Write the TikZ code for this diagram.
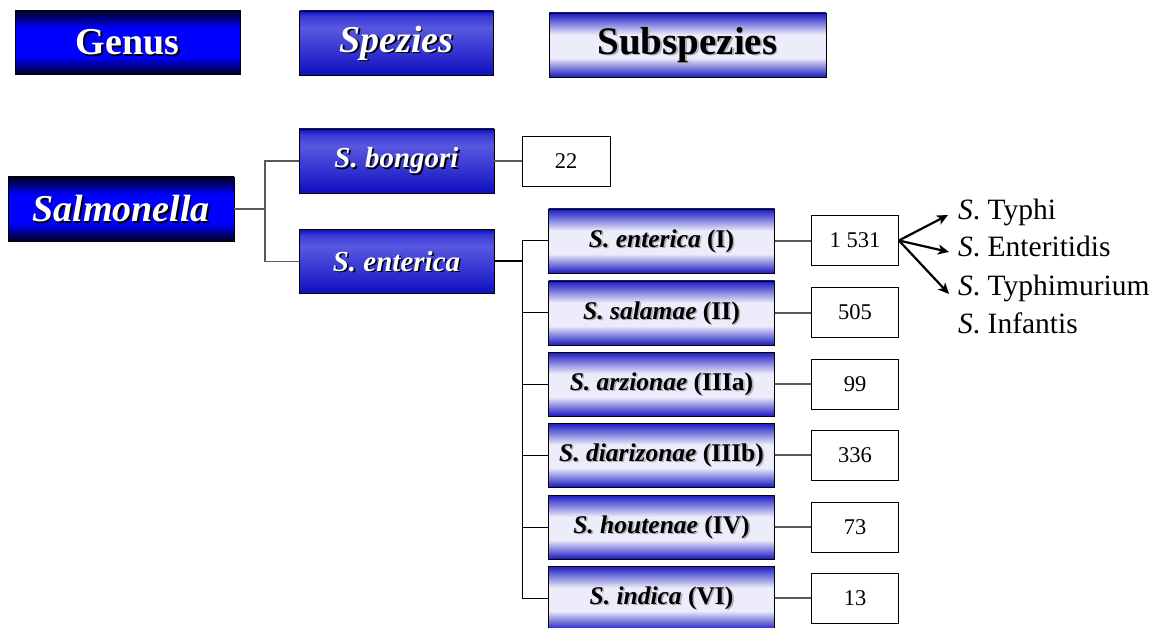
\documentclass[tikz,border=0pt]{standalone}
\usepackage{fontspec}
\setmainfont{Liberation Serif}
\usetikzlibrary{arrows.meta}
\definecolor{gdark}{RGB}{0,0,35}
\definecolor{gblue}{RGB}{0,0,255}
\definecolor{sdark}{RGB}{15,15,190}
\definecolor{smid}{RGB}{55,55,212}
\definecolor{slight}{RGB}{88,88,224}
\definecolor{udark}{RGB}{25,25,195}
\definecolor{ulight}{RGB}{236,236,250}
\definecolor{edgegray}{RGB}{90,90,90}
\definecolor{shadowgray}{RGB}{175,175,185}
\pgfdeclareverticalshading{genusshade}{100bp}{color(0bp)=(gdark); color(25bp)=(gdark); color(39bp)=(gblue); color(61bp)=(gblue); color(75bp)=(gdark); color(100bp)=(gdark)}
\pgfdeclareverticalshading{speziesshade}{100bp}{color(0bp)=(sdark); color(25bp)=(sdark); color(45bp)=(smid); color(62bp)=(slight); color(71bp)=(smid); color(75bp)=(sdark); color(100bp)=(sdark)}
\pgfdeclareverticalshading{subshade}{100bp}{color(0bp)=(udark); color(25bp)=(udark); color(40bp)=(ulight); color(58bp)=(ulight); color(75bp)=(udark); color(100bp)=(udark)}
\newcommand\shad[3]{\leavevmode\rlap{\smash{\kern1.6pt\raisebox{-1.6pt}{\color{#2}#3}}}{\color{#1}#3}}
\tikzset{
  gbox/.style={draw=black, line width=0.8pt, shading=genusshade, minimum width=225pt, minimum height=64pt, inner sep=0pt},
  sbox/.style={draw=black, line width=0.8pt, shading=speziesshade, minimum width=194pt, minimum height=64pt, inner sep=0pt},
  ubox/.style={draw=black, line width=0.8pt, shading=subshade, minimum width=226pt, minimum height=64pt, inner sep=0pt},
  nbox/.style={draw=black, line width=0.8pt, fill=white, minimum width=87pt, minimum height=50pt, inner sep=0pt, font=\fontsize{22.5}{22.5}\selectfont},
  lbl/.style={anchor=base west, inner sep=0pt, font=\fontsize{29.5}{29.5}\selectfont},
  conn/.style={draw=edgegray, line width=1.3pt},
  connb/.style={draw=black, line width=1pt},
  arr/.style={draw=black, line width=2.2pt, -{Stealth[length=11pt,width=10pt,inset=3pt]}}
}
\begin{document}
\begin{tikzpicture}[x=1pt,y=-1pt]
\useasboundingbox (0,0) rectangle (1154,628);
% header
\node[gbox] (genus) at (127.5,42.5) {\fontsize{38}{38}\selectfont\bfseries\shad{white}{black}{Genus}};
\node[sbox] (spezies) at (396.5,43) {\fontsize{38}{38}\selectfont\bfseries\itshape\shad{white}{black}{Spezies}};
\node[ubox, minimum width=277pt] (subspezies) at (687.5,45) {\fontsize{39}{39}\selectfont\bfseries\shad{black}{shadowgray}{Subspezies}};
% tree
\node[gbox, minimum width=226pt] (salm) at (121,209) {\fontsize{38}{38}\selectfont\bfseries\itshape\shad{white}{black}{Salmonella}};
\node[sbox, minimum width=195pt] (bong) at (396.5,161) {\fontsize{29}{29}\selectfont\bfseries\itshape\shad{white}{black}{S. bongori}};
\node[sbox, minimum width=195pt] (ent) at (396.5,261.5) {\fontsize{29}{29}\selectfont\bfseries\itshape\shad{white}{black}{S. enterica}};
\node[nbox, minimum width=88pt] (n22) at (566,161.5) {22};
% subspecies
\node[ubox] (u1) at (661.5,241) {\fontsize{25.5}{25.5}\selectfont\bfseries\shad{black}{shadowgray}{\textit{S. enterica} (I)}};
\node[ubox] (u2) at (661.5,313) {\fontsize{25.5}{25.5}\selectfont\bfseries\shad{black}{shadowgray}{\textit{S. salamae} (II)}};
\node[ubox] (u3) at (661.5,384) {\fontsize{25.5}{25.5}\selectfont\bfseries\shad{black}{shadowgray}{\textit{S. arzionae} (IIIa)}};
\node[ubox] (u4) at (661.5,455) {\fontsize{25.5}{25.5}\selectfont\bfseries\shad{black}{shadowgray}{\textit{S. diarizonae} (IIIb)}};
\node[ubox] (u5) at (661.5,527) {\fontsize{25.5}{25.5}\selectfont\bfseries\shad{black}{shadowgray}{\textit{S. houtenae} (IV)}};
\node[ubox] (u6) at (661.5,598) {\fontsize{25.5}{25.5}\selectfont\bfseries\shad{black}{shadowgray}{\textit{S. indica} (VI)}};
% counts
\node[nbox] (c1) at (855,240.5) {1 531};
\node[nbox] (c2) at (855,312.5) {505};
\node[nbox] (c3) at (855,384) {99};
\node[nbox] (c4) at (855,455) {336};
\node[nbox] (c5) at (855,527) {73};
\node[nbox] (c6) at (855,598) {13};
% serovars
\node[lbl] (typhi) at (958,220) {\textit{S}. Typhi};
\node[lbl] (enter) at (958,257) {\textit{S}. Enteritidis};
\node[lbl] (typhim) at (958,296) {\textit{S}. Typhimurium};
\node[lbl] (infant) at (958,334) {\textit{S}. Infantis};
% connectors
\coordinate (j1) at (265,209);
\draw[conn] (salm.east) -- (j1);
\draw[conn] (bong.west) -| (j1) |- (ent.west);
\draw[conn] (bong.east) -- (bong.east -| n22.west);
\coordinate (j2) at (522,261.5);
\draw[draw=black, line width=2pt] (ent.east) -- (j2);
\draw[connb] (u1.west) -| (j2);
\draw[connb] (j2) |- (u6.west);
\draw[connb] (j2 |- u2.west) -- (u2.west);
\draw[connb] (j2 |- u3.west) -- (u3.west);
\draw[connb] (j2 |- u4.west) -- (u4.west);
\draw[connb] (j2 |- u5.west) -- (u5.west);
\foreach \i in {1,...,6}{\draw[conn] (u\i.east) -- (u\i.east -| c\i.west);}
% arrows
\draw[arr] (c1.east) -- ([xshift=-10pt,yshift=5pt]typhi.base west);
\draw[arr] (c1.east) -- ([xshift=-9pt,yshift=5pt]enter.base west);
\draw[arr] (c1.east) -- ([xshift=-9pt,yshift=2pt]typhim.base west);
\end{tikzpicture}
\end{document}
